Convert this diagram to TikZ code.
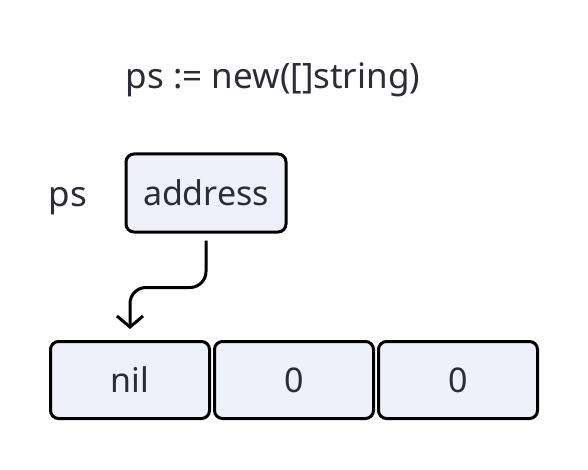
\documentclass[tikz,border=0pt]{standalone}
\usepackage{fontspec}
\setmainfont{Noto Sans}
\usepackage{xcolor}
\usetikzlibrary{arrows.meta, positioning}
\definecolor{cellfill}{HTML}{EEF1F9}
\definecolor{inkgray}{HTML}{2B2C36}
\tikzset{
	cell/.style={draw=black, fill=cellfill, line width=3pt, rounded corners=8pt,
		minimum width=159pt, minimum height=77pt, inner sep=0pt, text=inkgray,
		font=\fontsize{34}{40}\selectfont},
	label/.style={text=inkgray, font=\fontsize{35}{40}\selectfont, inner sep=0pt, anchor=base},
	pointer/.style={line width=3pt, rounded corners=16pt, -{Straight Barb[length=11pt, width=26pt, line width=3pt]}}
}
\begin{document}
\begin{tikzpicture}[x=1pt, y=-1pt]
	\useasboundingbox (0, 0) rectangle (588, 470);
	% Title and variable:
	\node[label](title) at (273, 89){ps := new([]string)};
	\node[label](var) at (68, 207){ps};
	\node[cell, minimum width=160pt, minimum height=78pt](addr) at (206, 193){address};
	% Backing array:
	\node[cell](nil) at (130, 380){nil};
	\node[cell](zeroA) at (294, 380){0};
	\node[cell](zeroB) at (458, 380){0};
	% Pointer:
	\draw[pointer] ([yshift=-7pt]addr.south) -- ++(0, 47) -| ([yshift=11pt]nil.north);
\end{tikzpicture}
\end{document}
